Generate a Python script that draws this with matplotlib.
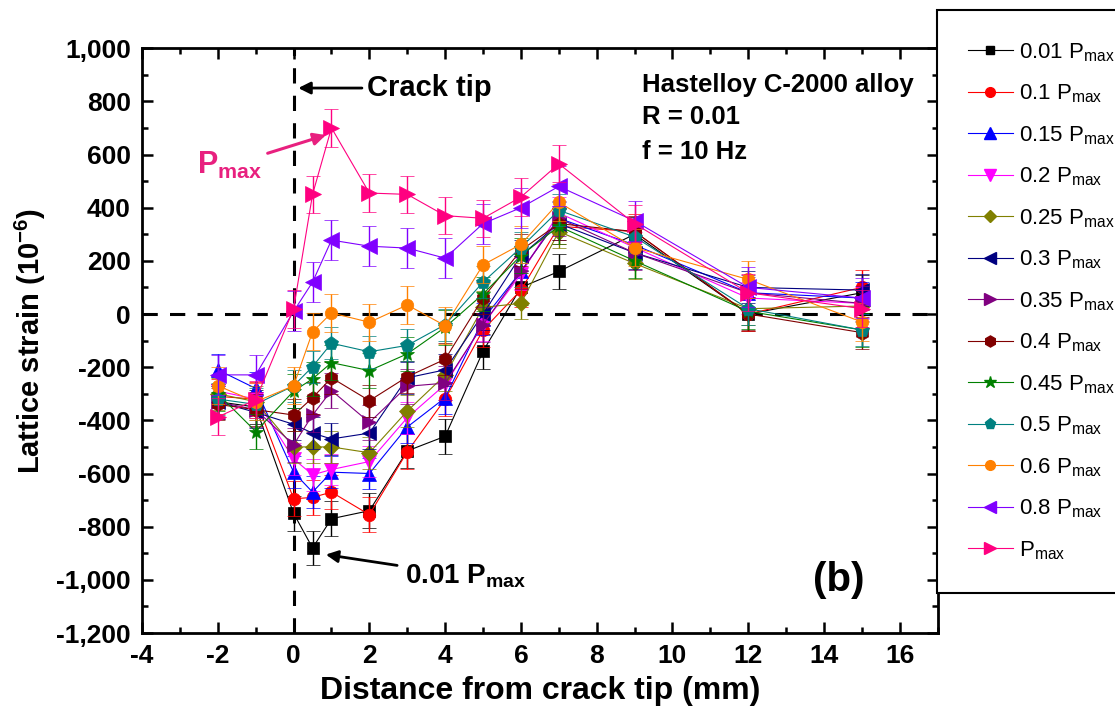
import matplotlib
matplotlib.use('Agg')
from matplotlib import pyplot as plt
from matplotlib.ticker import MultipleLocator, FuncFormatter

plt.rcParams['font.family'] = ['Liberation Sans', 'DejaVu Sans']
plt.rcParams['mathtext.fontset'] = 'custom'
plt.rcParams['mathtext.rm'] = 'Liberation Sans'
plt.rcParams['mathtext.bf'] = 'Liberation Sans:bold'
plt.rcParams['axes.unicode_minus'] = False

# distance from crack tip (mm)
x = [-2, -1, 0, 0.5, 1, 2, 3, 4, 5, 6, 7, 9, 12, 15]

labels = ['0.01', '0.1', '0.15', '0.2', '0.25', '0.3', '0.35', '0.4', '0.45', '0.5', '0.6', '0.8', '']

# lattice strain (10^-6), one list per load level
s001 = [-330, -350, -750, -880, -770, -740, -515, -460, -140, 100, 160, 300, 0, 80]
s010 = [-310, -320, -695, -690, -670, -755, -518, -320, -60, 90, 330, 310, 0, 100]
s015 = [-210, -280, -595, -670, -595, -600, -425, -315, -20, 160, 360, 260, 80, 60]
s020 = [-290, -320, -545, -605, -585, -555, -390, -265, -40, 150, 380, 250, 60, 40]
s025 = [-300, -330, -500, -500, -500, -522, -365, -230, 25, 40, 310, 190, 20, 30]
s030 = [-330, -370, -415, -448, -470, -448, -240, -210, 0, 220, 340, 230, 100, 90]
s035 = [-330, -360, -492, -380, -288, -408, -272, -260, -40, 160, 360, 230, 80, 40]
s040 = [-340, -360, -380, -315, -240, -326, -236, -170, 60, 240, 340, 310, 0, -70]
s045 = [-300, -442, -290, -244, -183, -213, -150, -50, 75, 220, 330, 200, 10, -60]
s050 = [-320, -340, -270, -198, -110, -142, -118, -40, 120, 250, 390, 290, 20, -60]
s060 = [-270, -330, -270, -67, 4, -31, 34, -44, 185, 262, 420, 250, 130, -30]
s080 = [-229, -229, 10, 120, 278, 255, 248, 210, 340, 400, 480, 350, 100, 60]
s100 = [-387, -323, 19, 450, 700, 455, 450, 370, 360, 440, 565, 340, 80, 20]

# error bar half widths
errs = [65, 65, 60, 60, 60, 60, 65, 60, 65, 60, 70, 75, 70]

series = [s001, s010, s015, s020, s025, s030, s035, s040, s045, s050, s060, s080, s100]
colors = ['black', '#ff0000', '#0000ff', '#ff00ff', '#808000', '#000080', '#800080',
          '#800000', '#008000', '#008080', '#ff8000', '#8000ff', '#ff0080']
markers = ['s', 'o', '^', 'v', 'D', '<', '>', 'h', '*', 'p', 'o', '<', '>']
sizes = [8, 9, 10, 10, 8, 10, 10, 10, 11, 10, 9, 11, 11]

fig = plt.figure(figsize=(11.15, 7.19), dpi=100)
ax = fig.add_axes([0.1274, 0.1196, 0.7136, 0.8134])

handles = []
for i in range(len(series)):
    ax.errorbar(x, series[i], yerr=errs[i], color=colors[i], marker=markers[i],
                markersize=sizes[i], linewidth=0.8, elinewidth=1.0, capsize=5,
                capthick=1.0, markeredgewidth=0.5, zorder=3 + i)
    h, = ax.plot([], [], color=colors[i], marker=markers[i], markersize=sizes[i] - 2, linewidth=0.8)
    handles.append(h)

ax.axvline(0, color='black', linestyle=(0, (5, 4)), linewidth=2.2, zorder=2)
ax.axhline(0, color='black', linestyle=(0, (5, 4)), linewidth=2.2, zorder=2)

ax.set_xlim(-4, 17)
ax.set_ylim(-1200, 1000)
ax.xaxis.set_major_locator(MultipleLocator(2))
ax.xaxis.set_minor_locator(MultipleLocator(1))
ax.yaxis.set_major_locator(MultipleLocator(200))
ax.yaxis.set_minor_locator(MultipleLocator(100))
ax.yaxis.set_major_formatter(FuncFormatter(lambda v, p: '{:,.0f}'.format(v)))
ax.tick_params(which='both', direction='in', top=True, right=True, width=1.8)
ax.tick_params(which='major', length=8, labelsize=19, pad=8)
ax.tick_params(which='minor', length=4)
for lab in ax.get_xticklabels() + ax.get_yticklabels():
    lab.set_fontweight('bold')
for sp in ax.spines.values():
    sp.set_linewidth(2)

ax.set_xlabel('Distance from crack tip (mm)', fontsize=23, fontweight='bold', labelpad=6)
ax.set_ylabel('Lattice strain (10$^{\\mathbf{-6}}$)', fontsize=21, fontweight='bold', labelpad=6)

ax.annotate('Crack tip', xy=(0.05, 850), xytext=(1.95, 850), fontsize=21, fontweight='bold',
            va='center', arrowprops=dict(arrowstyle='-|>', color='black', lw=2, mutation_scale=18))
ax.text(9.2, 860, 'Hastelloy C-2000 alloy', fontsize=18.5, fontweight='bold', va='center')
ax.text(9.2, 740, 'R = 0.01', fontsize=18.5, fontweight='bold', va='center')
ax.text(9.2, 610, 'f = 10 Hz', fontsize=18.5, fontweight='bold', va='center')
ax.annotate('P$_{\\mathbf{max}}$', xy=(0.85, 673), xytext=(-2.55, 560), fontsize=22, fontweight='bold',
            color='#e8207f', va='center',
            arrowprops=dict(arrowstyle='-|>', color='#e8207f', lw=2.2, mutation_scale=18,
                            shrinkA=2, shrinkB=0))
ax.annotate('0.01 P$_{\\mathbf{max}}$', xy=(0.85, -905), xytext=(2.95, -985), fontsize=20,
            fontweight='bold', va='center',
            arrowprops=dict(arrowstyle='-|>', color='black', lw=2, mutation_scale=18,
                            shrinkA=4, shrinkB=0))
ax.text(14.4, -1000, '(b)', fontsize=29, fontweight='bold', va='center', ha='center')

leg_labels = [l + ' P$_\\mathregular{max}$' if l else 'P$_\\mathregular{max}$' for l in labels]
leg = fig.legend(handles, leg_labels, loc='upper left', bbox_to_anchor=(0.8405, 0.986),
                 fontsize=16, frameon=True, fancybox=False, edgecolor='black', framealpha=1,
                 borderaxespad=0, handlelength=2.0, labelspacing=0.85, borderpad=1.4,
                 handletextpad=0.3)
leg.get_frame().set_linewidth(1.5)

plt.savefig('out.png', dpi=100)
